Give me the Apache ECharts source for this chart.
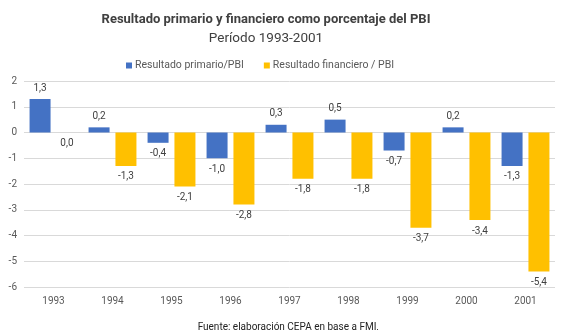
<!DOCTYPE html>
<html><head><meta charset="utf-8">
<script src="https://cdn.jsdelivr.net/npm/echarts@6/dist/echarts.min.js"></script>
<style>html,body{margin:0;padding:0;background:#fff}#c{width:567px;height:330px}</style>
</head><body><div id="c"></div>
<script>
const categories = ['1993','1994','1995','1996','1997','1998','1999','2000','2001'];
const primario = [1.3, 0.2, -0.4, -1.0, 0.3, 0.5, -0.7, 0.2, -1.3];
const financiero = [0.0, -1.3, -2.1, -2.8, -1.8, -1.8, -3.7, -3.4, -5.4];
const yTicks = [-6, -5, -4, -3, -2, -1, 0, 1, 2];

const fmt = v => v.toFixed(1).replace('.', ',');
const mk = arr => arr.map(v => ({
  value: v,
  label: { position: v > 0 ? 'top' : 'bottom' }
}));
const F = 'Roboto, "Noto Sans", sans-serif';
const chart = echarts.init(document.getElementById('c'), null, {renderer: 'canvas'});
chart.setOption({
  animation: false,
  textStyle: { fontFamily: F },
  title: [
    { text: 'Resultado primario y financiero como porcentaje del PBI', left: 261, textAlign: 'center', top: 8,
      textStyle: { fontFamily: F, fontSize: 13, fontWeight: 'bold', color: '#404040' } },
    { text: 'Período 1993-2001', left: 261, textAlign: 'center', top: 27,
      textStyle: { fontFamily: F, fontSize: 13.5, fontWeight: 'normal', color: '#404040' } },
    { text: 'Fuente: elaboración CEPA en base a FMI,', left: 283, textAlign: 'center', top: 317,
      textStyle: { fontFamily: F, fontSize: 10, fontWeight: 'normal', color: '#222' } }
  ],
  legend: {
    top: 55, left: 121, itemWidth: 6, itemHeight: 6, itemGap: 20, icon: 'rect',
    textStyle: { fontFamily: F, fontSize: 10.5, color: '#595959', padding: [0, 0, 0, -2] },
    data: ['Resultado primario/PBI', 'Resultado financiero / PBI']
  },
  grid: { left: 24, right: 12, top: 81, bottom: 43 },
  xAxis: {
    type: 'category', data: categories, position: 'bottom',
    axisLine: { show: false }, axisTick: { show: false },
    axisLabel: { fontFamily: F, fontSize: 10, color: '#595959', margin: 9 }
  },
  yAxis: {
    type: 'value', min: yTicks[0], max: yTicks[yTicks.length - 1], interval: 1,
    axisLine: { show: false }, axisTick: { show: false },
    axisLabel: { fontFamily: F, fontSize: 10, color: '#595959', margin: 7 },
    splitLine: { lineStyle: { color: '#d9d9d9', width: 1 } }
  },
  series: [
    { name: 'Resultado primario/PBI', type: 'bar', data: mk(primario), barWidth: 21, barGap: '28%',
      itemStyle: { color: '#4472C4' },
      label: { show: true, fontFamily: F, fontSize: 10, color: '#404040', distance: 6,
        formatter: p => fmt(p.value) } },
    { name: 'Resultado financiero / PBI', type: 'bar', data: mk(financiero), barWidth: 21,
      itemStyle: { color: '#FFC000' },
      label: { show: true, fontFamily: F, fontSize: 10, color: '#404040', distance: 6,
        formatter: p => fmt(p.value) } }
  ]
});
</script></body></html>
